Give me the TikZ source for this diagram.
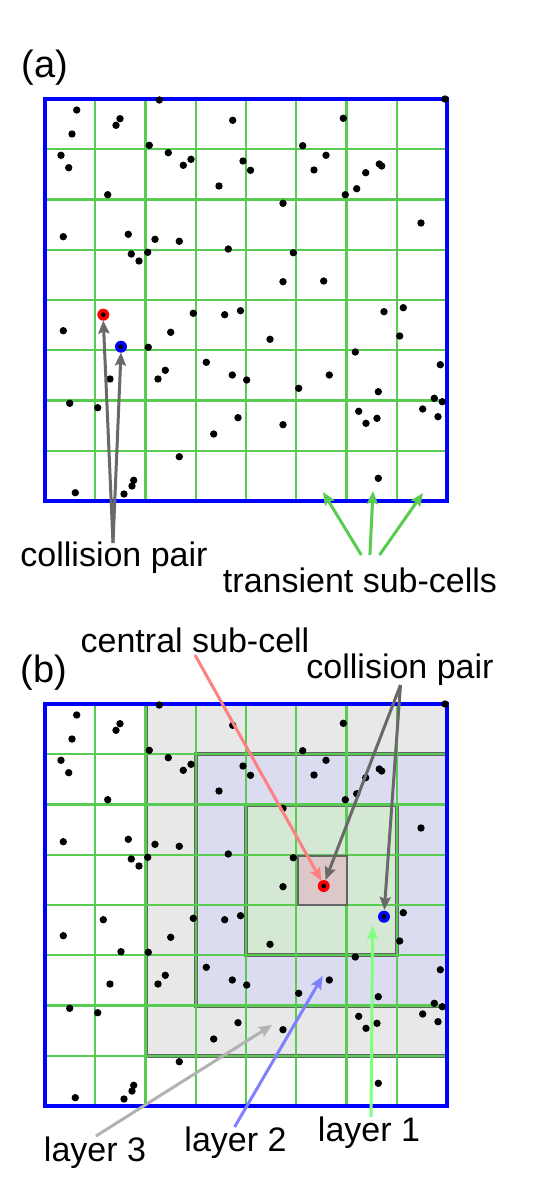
\documentclass[tikz,border=0pt]{standalone}
\usepackage{fontspec}
\setmainfont{Liberation Sans}
\usetikzlibrary{arrows.meta}
\definecolor{gridg}{RGB}{88,204,80}
\definecolor{boxb}{RGB}{0,0,255}
\definecolor{arrgray}{RGB}{105,105,105}
\definecolor{arrpink}{RGB}{255,128,128}
\definecolor{arrlg}{RGB}{178,178,178}
\definecolor{arrlb}{RGB}{128,128,255}
\definecolor{arrlgr}{RGB}{128,255,128}
\definecolor{lthree}{RGB}{232,232,232}
\definecolor{ltwo}{RGB}{220,220,240}
\definecolor{lone}{RGB}{212,232,212}
\definecolor{lcen}{RGB}{220,200,200}
\definecolor{lborder}{RGB}{100,100,100}
\newcommand{\mydots}{%
  \foreach \px/\py in {76.7/110,72/134,120/118.7,116/125.3,159.3/100,232.7/120.3,149.3/145.3,61/155.3,68.7/167.7,168.3/152.7,183.3/165.3,191/159.3,243/161,250.5/170.3,219/186,107.7/194.7,63.3/236.7,128.3/234.3,155/239.3,179.3/241.3,228.3/249,131.3/254,139/261,147.7/252.3,445/99,343.3/118.3,302.7/145.7,326/155.3,314/170,365.7/172.7,379.3/164,381.7/166,356.7/188.7,345.3/194.7,283/203.3,421/223,293.3/252.7,283/281.7,323.7/281,103.3/314.7,121/346.7,63.3/330.7,193.3/313.3,224.7/314.7,240.5/310.7,170.7/332.3,148.3/347.3,206.3/362.3,165.3/370.3,158/379,110/379,232.3/375,246.7/380,69.7/403.3,97.7/407.7,238/417.7,213.7/434,179.3/456.7,75.3/492.7,124/494,132/486,133.7/480.3,384/311.7,403.3/307.7,270/339.3,399.7/336,355.3/352,440.3/364.7,329.3/375,298.7/388.3,378.3/391.7,283/424.7,358.7/411.3,377/418.3,366/423.3,422.7/409,434.3/398.3,442.3/401.7,438/416.7,378.3/478.3}
  {\fill[black] (\px,\py) circle[radius=3.7pt];}}
\newcommand{\mygrid}{%
  \foreach \k in {1,...,7} {
    \draw[gridline] (45+50.25*\k,99) -- (45+50.25*\k,501);
    \draw[gridline] (45,99+50.25*\k) -- (447,99+50.25*\k);
  }}
\begin{document}
\begin{tikzpicture}[x=1pt,y=-1pt,
  gridline/.style={draw=gridg,line width=2.2pt},
  bluebox/.style={draw=boxb,line width=3.6pt},
  lbl/.style={anchor=base,inner sep=0pt,font=\fontsize{34}{40}\selectfont},
  plbl/.style={anchor=base,inner sep=0pt,font=\fontsize{38}{44}\selectfont},
  arr/.style={line width=3pt,-{Stealth[length=13pt,width=11pt,inset=2pt]}},
  layerb/.style={draw=lborder,line width=4pt}]
\useasboundingbox (0,0) rectangle (540,1183);
% ---------- panel (a) ----------
\node[plbl] (la) at (45,77) {(a)};
\mygrid
\draw[bluebox] (45,99) rectangle (447,501);
\mydots
\fill[red] (103.3,314.7) circle[radius=6pt];
\fill[black] (103.3,314.7) circle[radius=2.4pt];
\fill[boxb] (121,346.7) circle[radius=6pt];
\fill[black] (121,346.7) circle[radius=2.4pt];
\coordinate (redA) at (103.3,320.5);
\coordinate (blueA) at (121,352.5);
\node[lbl] (cpA) at (114,566) {collision pair};
\coordinate (cpAt) at (113,543);
\draw[arr,arrgray] (cpAt) -- (redA);
\draw[arr,arrgray] (cpAt) -- (blueA);
\node[lbl] (tsc) at (360,592.5) {transient sub-cells};
\coordinate (tscL) at (361.3,555);
\coordinate (tscM) at (369.9,555);
\coordinate (tscR) at (379.5,555);
\coordinate (subL) at (323,492);
\coordinate (subM) at (373,491);
\coordinate (subR) at (423,493);
\draw[arr,gridg] (tscL) -- (subL);
\draw[arr,gridg] (tscM) -- (subM);
\draw[arr,gridg] (tscR) -- (subR);
% ---------- panel (b) ----------
\node[plbl] (lb) at (44,682) {(b)};
\begin{scope}[shift={(0,605)}]
  \fill[lthree] (145.5,99) rectangle (447,450.75);
  \draw[layerb] (145.5,99) rectangle (447,450.75);
  \fill[ltwo] (195.75,149.25) rectangle (447,400.5);
  \draw[layerb] (195.75,149.25) rectangle (447,400.5);
  \fill[lone] (246,199.5) rectangle (396.75,350.25);
  \draw[layerb] (246,199.5) rectangle (396.75,350.25);
  \mygrid
  \fill[lcen] (297.8,251.3) rectangle (346.5,300);
  \draw[lborder,line width=2pt] (297.8,251.3) rectangle (346.5,300);
  \draw[bluebox] (45,99) rectangle (447,501);
  \mydots
  \fill[red] (323.7,281) circle[radius=6pt];
  \fill[black] (323.7,281) circle[radius=2.4pt];
  \fill[boxb] (384,311.7) circle[radius=6pt];
  \fill[black] (384,311.7) circle[radius=2.4pt];
  \coordinate (redBt) at (321.5,276);
  \coordinate (redBc) at (325.5,275);
  \coordinate (blueB) at (384.3,305);
\end{scope}
\node[lbl] (csc) at (195,652.5) {central sub-cell};
\coordinate (csct) at (195,655);
\draw[arr,arrpink] (csct) -- (redBt);
\node[lbl] (cpB) at (400,678) {collision pair};
\coordinate (cpBt) at (400.5,685);
\draw[arr,arrgray] (cpBt) -- (redBc);
\draw[arr,arrgray] (cpBt) -- (blueB);
\node[lbl] (l3) at (95,1161.5) {layer 3};
\node[lbl] (l2) at (235.5,1151) {layer 2};
\node[lbl] (l1) at (369,1141) {layer 1};
\coordinate (l3t) at (96,1136);
\coordinate (l2t) at (234.6,1127);
\coordinate (l1t) at (371,1117);
\coordinate (l3h) at (272,1025);
\coordinate (l2h) at (322.7,976);
\coordinate (l1h) at (372.7,926);
\draw[arr,arrlg] (l3t) -- (l3h);
\draw[arr,arrlb] (l2t) -- (l2h);
\draw[arr,arrlgr] (l1t) -- (l1h);
\end{tikzpicture}
\end{document}
